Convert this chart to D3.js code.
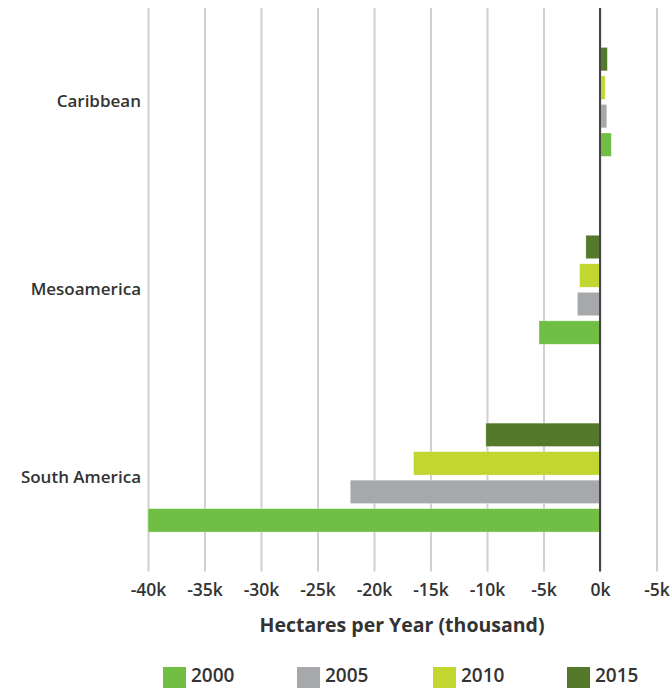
<!DOCTYPE html>
<html>
<head>
<meta charset="utf-8">
<script src="https://cdn.jsdelivr.net/npm/d3@7"></script>
<style>
  body { margin: 0; background: #fff; }
  svg text { font-family: "Open Sans", "DejaVu Sans", sans-serif; fill: #333; }
</style>
</head>
<body>
<svg id="graph" width="672" height="688"></svg>
<script>
// values in thousand hectares per year
var regions = ['Caribbean', 'Mesoamerica', 'South America'];
var years = ['2000', '2005', '2010', '2015'];
var values_2000 = [1.0, -5.4, -40.0];
var values_2005 = [0.6, -2.0, -22.1];
var values_2010 = [0.45, -1.8, -16.5];
var values_2015 = [0.65, -1.25, -10.1];
var tick_values = [-40, -35, -30, -25, -20, -15, -10, -5, 0, 5];
var tick_labels = ['-40k', '-35k', '-30k', '-25k', '-20k', '-15k', '-10k', '-5k', '0k', '-5k'];
var year_colors = ['#70bf44', '#a7a8ab', '#c1d62e', '#54792a'];

/*************************************************************************/

var svg = d3.select('#graph');
var series = { '2000': values_2000, '2005': values_2005, '2010': values_2010, '2015': values_2015 };

var xScale = d3.scaleLinear().domain([-40, 5]).range([148, 656.5]);
var yScale = d3.scaleBand().domain(regions).range([8, 571.5]).paddingInner(0.42).paddingOuter(0.21);
// bars inside a group run 2015 on top down to 2000
var yInner = d3.scaleBand().domain(years.slice().reverse()).range([0, yScale.bandwidth()]).paddingInner(0.18);
var color = d3.scaleOrdinal().domain(years).range(year_colors);

/*************************************************************************/

// grid lines + tick labels
var xAxis = svg.append('g').attr('transform', 'translate(0,571.5)')
  .call(d3.axisBottom(xScale)
    .tickValues(tick_values)
    .tickSize(-563.5)
    .tickPadding(12)
    .tickFormat((d, i) => tick_labels[i]));
xAxis.select('.domain').remove();
xAxis.selectAll('.tick line').attr('stroke', '#cfcfd1').attr('stroke-width', 2);
xAxis.selectAll('.tick text').style('font-size', '17.5px').style('font-weight', 600).attr('fill', '#333');

/*************************************************************************/

var groups = svg.append('g').selectAll('g')
  .data(regions)
  .join('g')
  .attr('transform', d => 'translate(0,' + yScale(d) + ')');

groups.selectAll('rect')
  .data((d, i) => years.map(y => ({ year: y, value: series[y][i] })))
  .join('rect')
  .attr('x', d => xScale(Math.min(0, d.value)))
  .attr('y', d => yInner(d.year))
  .attr('width', d => Math.abs(xScale(d.value) - xScale(0)))
  .attr('height', yInner.bandwidth())
  .attr('fill', d => color(d.year))
  .attr('stroke', '#ffffff')
  .attr('stroke-opacity', 0.5)
  .attr('stroke-width', 0.6);

// zero line on top of the bars
svg.append('line')
  .attr('x1', xScale(0)).attr('x2', xScale(0))
  .attr('y1', 8).attr('y2', 571.5)
  .attr('stroke', '#444')
  .attr('stroke-width', 2);

/*************************************************************************/

var yAxis = svg.append('g').attr('transform', 'translate(141,0)')
  .call(d3.axisLeft(yScale).tickSize(0).tickPadding(0));
yAxis.select('.domain').remove();
yAxis.selectAll('.tick text').style('font-size', '17px').style('font-weight', 600).attr('fill', '#333');

svg.append('text')
  .attr('x', 402).attr('y', 632)
  .attr('text-anchor', 'middle')
  .style('font-size', '19.5px')
  .style('font-weight', 'bold')
  .text('Hectares per Year (thousand)');

/*************************************************************************/

var legend_x = [163, 297, 433, 567];
var legend = svg.append('g').selectAll('g')
  .data(years)
  .join('g')
  .attr('transform', (d, i) => 'translate(' + legend_x[i] + ',667)');

legend.append('rect')
  .attr('width', 23).attr('height', 23)
  .attr('fill', d => color(d));

legend.append('text')
  .attr('x', 28).attr('y', 15)
  .style('font-size', '19px')
  .style('font-weight', 600)
  .text(d => d);
</script>
</body>
</html>
